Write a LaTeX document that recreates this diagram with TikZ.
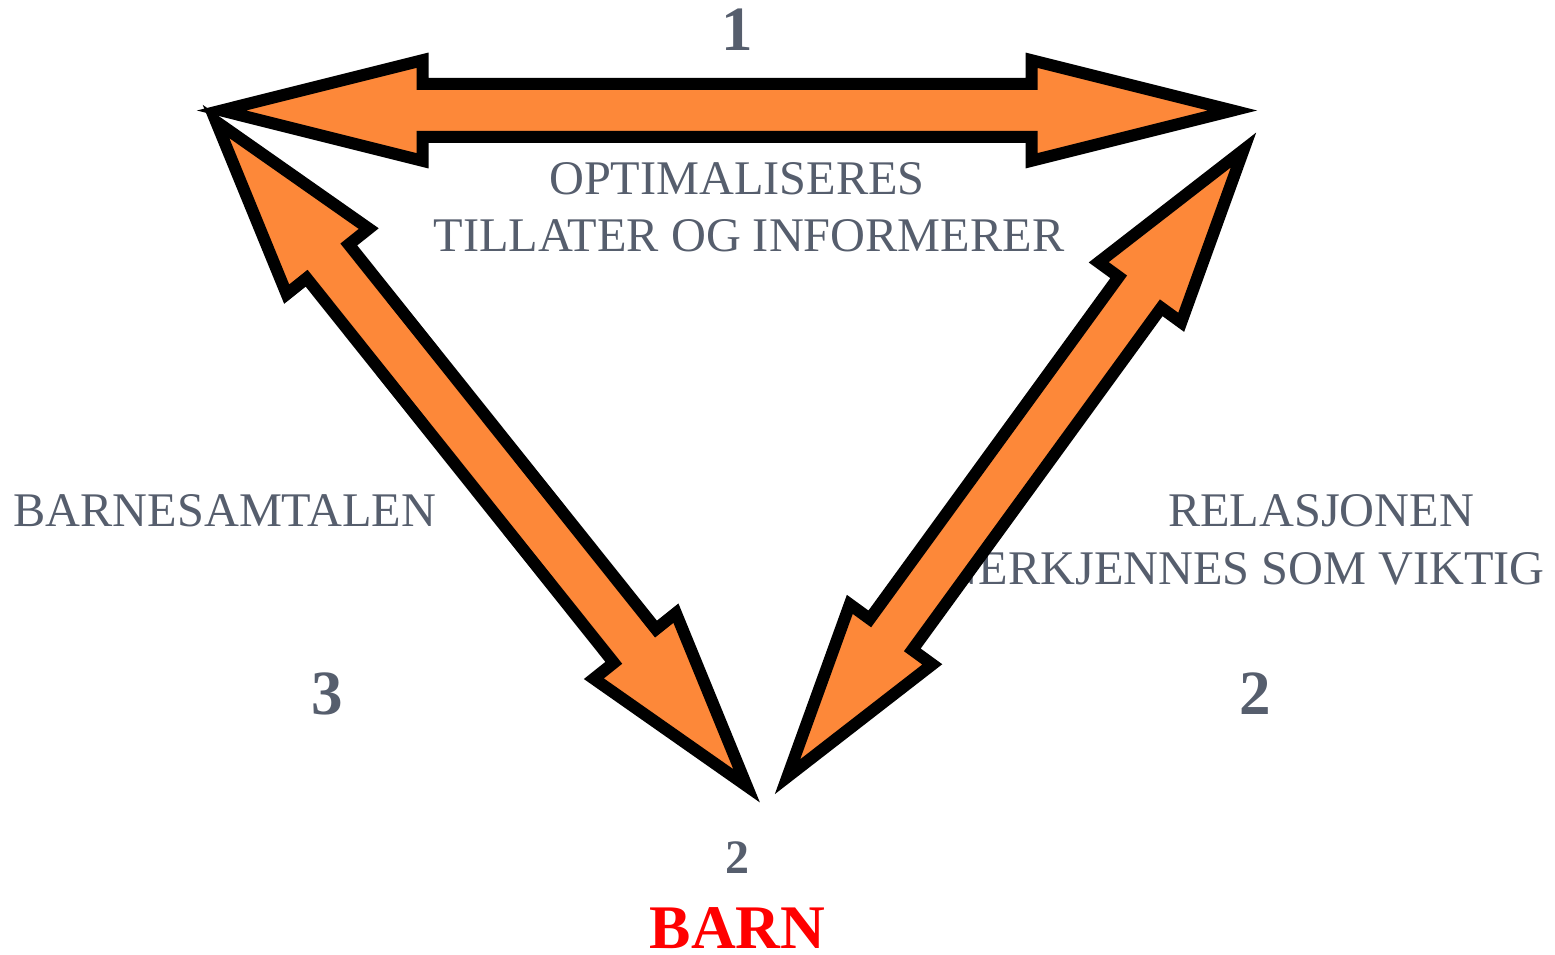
\documentclass[tikz,border=0pt]{standalone}
\usepackage{fontspec}
\setmainfont{Liberation Serif}
\usetikzlibrary{calc}
\definecolor{txtgray}{RGB}{86,94,109}
\definecolor{arroworange}{RGB}{253,136,57}
\definecolor{barnred}{RGB}{255,0,0}
\newcommand\dblarrow[6]{%
  \coordinate (#6a) at ($(#1)!#3!(#2)$);
  \coordinate (#6b) at ($(#2)!#3!(#1)$);
  \draw[blockarrow] (#1) -- ($(#6a)!#4!90:(#2)$) -- ($(#6a)!#5!90:(#2)$)
    -- ($(#6b)!#5!-90:(#1)$) -- ($(#6b)!#4!-90:(#1)$) -- (#2)
    -- ($(#6b)!#4!90:(#1)$) -- ($(#6b)!#5!90:(#1)$)
    -- ($(#6a)!#5!-90:(#2)$) -- ($(#6a)!#4!-90:(#2)$) -- cycle;
}
\begin{document}
\begin{tikzpicture}[x=1pt,y=-1pt,
  blockarrow/.style={fill=arroworange, draw=black, line width=12pt, line join=miter},
  lbl/.style={text=txtgray, font=\fontsize{48.3}{57}\selectfont, inner sep=0pt, anchor=base},
  bignum/.style={text=txtgray, font=\fontsize{63}{70}\selectfont\bfseries, inner sep=0pt, anchor=base},
  smallnum/.style={text=txtgray, font=\fontsize{48}{54}\selectfont\bfseries, inner sep=0pt, anchor=base},
  barnlbl/.style={text=barnred, font=\fontsize{62}{70}\selectfont\bfseries, inner sep=0pt, anchor=base}]
\useasboundingbox (0,0) rectangle (1555,955);
% texts
\node[bignum] (n1) at (737.5,51) {1};
\node[lbl] (opt) at (737,194) {OPTIMALISERES};
\node[lbl] (till) at (749,251) {TILLATER OG INFORMERER};
\node[lbl] (barnesam) at (225,526) {BARNESAMTALEN};
\node[lbl] (rel) at (1321,526) {RELASJONEN};
\node[lbl, anchor=base east] (anerk) at (1545,584) {ANERKJENNES SOM VIKTIG};
\node[bignum] (n3) at (327,714) {3};
\node[bignum] (n2) at (1255,714) {2};
\node[smallnum] (n2b) at (737,873) {2};
\node[barnlbl] (barn) at (737.5,948) {BARN};
% arrow tips
\coordinate (tl) at (221.5,110.5);
\coordinate (tr) at (1232.5,110.5);
\coordinate (lt) at (216,121.5);
\coordinate (lb) at (746.6,785.8);
\coordinate (rt) at (1243.5,150);
\coordinate (rb) at (787.5,776.7);
% arrows
\dblarrow{lt}{lb}{179pt}{52.5pt}{27pt}{L}
\dblarrow{rt}{rb}{176pt}{51pt}{26.3pt}{R}
\dblarrow{tl}{tr}{201pt}{50.3pt}{26.5pt}{T}
\end{tikzpicture}
\end{document}
